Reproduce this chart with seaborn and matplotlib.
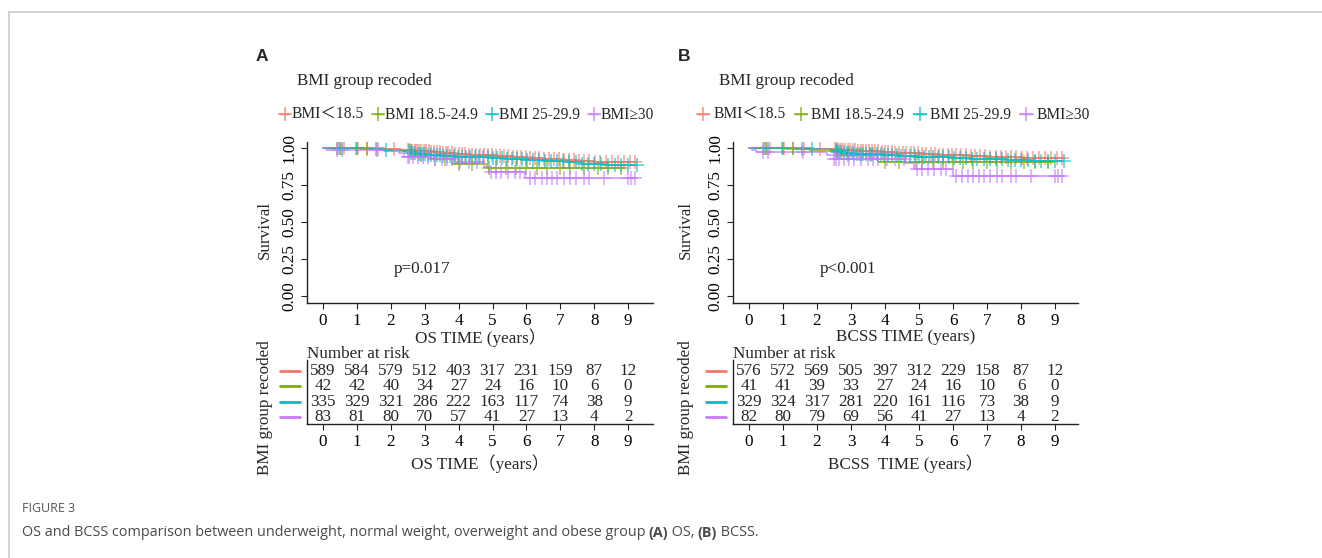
import numpy as np
import pandas as pd
import matplotlib
matplotlib.use('Agg')
import matplotlib.pyplot as plt
import matplotlib.transforms as mtransforms
from matplotlib.lines import Line2D
import seaborn as sns

groups = ['BMI＜18.5', 'BMI 18.5-24.9', 'BMI 25-29.9', 'BMI≥30']
colors = ['#F8766D', '#7CAE00', '#00BFC4', '#C77CFF']
years = list(range(10))
surv_ticks = [0.0, 0.25, 0.5, 0.75, 1.0]

# ---- OS (panel A) step curves: time, survival ----
os_red_t = [0, 0.6, 1.2, 1.9, 2.3, 2.6, 2.9, 3.2, 3.5, 3.9, 4.3, 4.7, 5.1, 5.6, 6.0, 6.5, 7.0, 7.5, 8.0, 8.6, 9.2]
os_red_s = [1.0, 0.998, 0.995, 0.992, 0.988, 0.982, 0.976, 0.971, 0.966, 0.960, 0.955, 0.950, 0.944, 0.937, 0.930, 0.924, 0.918, 0.912, 0.907, 0.903, 0.903]
os_green_t = [0, 1.8, 2.7, 3.3, 3.8, 4.85, 8.9]
os_green_s = [1.0, 0.976, 0.952, 0.928, 0.890, 0.862, 0.862]
os_cyan_t = [0, 0.4, 1.1, 1.8, 2.4, 2.6, 2.8, 3.1, 3.5, 3.9, 4.4, 4.9, 5.4, 5.9, 6.5, 7.1, 7.6, 8.3, 9.25]
os_cyan_s = [1.0, 0.997, 0.993, 0.988, 0.980, 0.968, 0.960, 0.954, 0.948, 0.942, 0.936, 0.930, 0.924, 0.917, 0.910, 0.902, 0.890, 0.884, 0.884]
os_purple_t = [0, 0.1, 2.25, 2.4, 3.2, 3.9, 4.75, 4.9, 5.95, 9.2]
os_purple_s = [1.0, 0.988, 0.964, 0.940, 0.925, 0.905, 0.870, 0.840, 0.795, 0.795]

# ---- BCSS (panel B) step curves ----
bcss_red_t = [0, 0.6, 1.2, 1.9, 2.3, 2.6, 2.9, 3.2, 3.5, 3.9, 4.3, 4.7, 5.1, 5.6, 6.0, 6.5, 7.0, 7.5, 8.0, 8.6, 9.2]
bcss_red_s = [1.0, 0.999, 0.997, 0.995, 0.992, 0.988, 0.984, 0.980, 0.976, 0.972, 0.968, 0.964, 0.960, 0.955, 0.950, 0.946, 0.942, 0.938, 0.935, 0.933, 0.933]
bcss_green_t = [0, 1.8, 2.7, 3.8, 8.9]
bcss_green_s = [1.0, 0.976, 0.951, 0.902, 0.902]
bcss_cyan_t = [0, 0.4, 1.1, 1.8, 2.4, 2.6, 2.8, 3.1, 3.5, 3.9, 4.4, 4.9, 5.4, 5.9, 6.5, 7.1, 7.6, 8.3, 9.25]
bcss_cyan_s = [1.0, 0.998, 0.995, 0.991, 0.985, 0.975, 0.968, 0.962, 0.957, 0.952, 0.947, 0.942, 0.937, 0.932, 0.928, 0.924, 0.918, 0.915, 0.915]
bcss_purple_t = [0, 0.1, 0.2, 2.3, 2.5, 4.6, 4.85, 6.0, 9.2]
bcss_purple_s = [1.0, 0.988, 0.975, 0.950, 0.925, 0.900, 0.857, 0.810, 0.810]

# ---- censoring times (same follow-up in both panels) ----
cens_red = [0.42, 0.5, 0.62, 1.02, 1.3, 1.62, 2.08, 2.52, 2.58, 2.64, 2.7, 2.77, 2.83, 2.9, 2.97, 3.05, 3.12,
            3.2, 3.28, 3.36, 3.45, 3.53, 3.62, 3.7, 3.8, 3.9, 4.0, 4.1, 4.2, 4.3, 4.4, 4.52, 4.63, 4.75, 4.86,
            4.98, 5.1, 5.22, 5.34, 5.47, 5.6, 5.72, 5.85, 5.98, 6.1, 6.24, 6.38, 6.52, 6.66, 6.8, 6.95, 7.1,
            7.25, 7.4, 7.55, 7.7, 7.86, 8.02, 8.18, 8.35, 8.52, 8.7, 8.88, 9.05, 9.2]
cens_green = [0.5, 1.0, 1.3, 2.6, 2.9, 3.3, 3.6, 4.0, 4.4, 4.9, 5.1, 5.4, 5.7, 6.0, 6.3, 6.6, 7.0, 7.3,
              7.7, 8.1, 8.4, 8.8]
cens_cyan = [0.45, 0.55, 0.98, 1.55, 1.85, 2.55, 2.6, 2.66, 2.72, 2.8, 2.87, 2.95, 3.02, 3.1, 3.18, 3.27,
             3.35, 3.44, 3.55, 3.65, 3.75, 3.87, 3.98, 4.1, 4.22, 4.35, 4.48, 4.6, 4.73, 4.87, 5.0, 5.14,
             5.28, 5.42, 5.57, 5.72, 5.88, 6.03, 6.2, 6.37, 6.55, 6.72, 6.9, 7.08, 7.27, 7.45, 7.63, 7.82,
             8.0, 8.2, 8.4, 8.6, 8.8, 9.0, 9.25]
cens_purple = [0.4, 0.55, 1.6, 2.5, 2.55, 2.65, 2.8, 2.95, 3.1, 3.3, 3.5, 3.65, 3.8, 4.05, 4.3, 4.55, 4.95,
               5.1, 5.25, 5.45, 5.65, 5.8, 6.1, 6.25, 6.45, 6.6, 6.75, 6.9, 7.1, 7.3, 7.45, 7.7, 7.85,
               8.3, 9.0, 9.1, 9.2]

# ---- number at risk ----
os_risk_red = [589, 584, 579, 512, 403, 317, 231, 159, 87, 12]
os_risk_green = [42, 42, 40, 34, 27, 24, 16, 10, 6, 0]
os_risk_cyan = [335, 329, 321, 286, 222, 163, 117, 74, 38, 9]
os_risk_purple = [83, 81, 80, 70, 57, 41, 27, 13, 4, 2]
bcss_risk_red = [576, 572, 569, 505, 397, 312, 229, 158, 87, 12]
bcss_risk_green = [41, 41, 39, 33, 27, 24, 16, 10, 6, 0]
bcss_risk_cyan = [329, 324, 317, 281, 220, 161, 116, 73, 38, 9]
bcss_risk_purple = [82, 80, 79, 69, 56, 41, 27, 13, 4, 2]

sns.set_style('ticks')
plt.rcParams['font.family'] = ['Liberation Serif', 'Noto Sans CJK SC', 'DejaVu Sans']
plt.rcParams['font.size'] = 12.3
plt.rcParams['axes.linewidth'] = 1.0
plt.rcParams['axes.edgecolor'] = '#222222'
plt.rcParams['xtick.color'] = '#222222'
plt.rcParams['ytick.color'] = '#222222'
plt.rcParams['xtick.labelcolor'] = 'black'
plt.rcParams['ytick.labelcolor'] = 'black'

W, H = 1322, 558
fig = plt.figure(figsize=(W / 100, H / 100), dpi=100)
fig.patch.set_facecolor('white')


def fx(px):
    return px / W


def fy(py):
    return 1 - py / H


def km_panel(left, right, zero_px, year_px, curves, censors, risks, p_text, p_pos,
             xlab_top, xlab_bottom, letter, letter_x, ylab_x, legend_x, legend_kw):
    xlo = (left - zero_px) / year_px
    xhi = (right - zero_px) / year_px

    # survival curves
    ax = fig.add_axes([fx(left), fy(303), (right - left) / W, (303 - 142) / H])
    for (t, s), cens, c in zip(curves, censors, colors):
        df = pd.DataFrame({'time': t, 'surv': s})
        sns.lineplot(data=df, x='time', y='surv', ax=ax, color=c, lw=1.1, alpha=0.85,
                     drawstyle='steps-post', estimator=None, legend=False)
        ta = np.array(t)
        sa = np.array(s)
        ca = np.array(cens)
        idx = np.searchsorted(ta, ca, side='right') - 1
        sns.scatterplot(x=ca, y=sa[idx], ax=ax, color=c, marker='+', s=95,
                        linewidth=1.3, alpha=0.6, legend=False, zorder=3)
    ax.set_xlim(xlo, xhi)
    ax.set_ylim(-0.047, 1.04)
    ax.set_xticks(years)
    ax.set_yticks(surv_ticks)
    ax.set_yticklabels(['%.2f' % v for v in surv_ticks])
    ax.tick_params(axis='y', labelrotation=90, length=4, pad=3)
    ax.tick_params(axis='x', length=4, pad=3)
    for lab in ax.get_yticklabels():
        lab.set_va('center')
    ax.set_xlabel(xlab_top, labelpad=0)
    ax.set_ylabel('')
    sns.despine(ax=ax)
    ax.text(p_pos[0], p_pos[1], p_text, ha='left', va='center')
    fig.text(fx(ylab_x), fy(230), 'Survival', rotation=90, ha='center', va='center')

    # title + legend
    fig.text(fx(letter_x), fy(56), letter, family='Liberation Sans', weight='bold',
             fontsize=12.5, ha='center', va='center')
    fig.text(fx(letter_x + 35), fy(81), 'BMI group recoded', ha='left', va='center')
    handles = [Line2D([], [], color=c, marker='+', markersize=10, markeredgewidth=1.1,
                      lw=1.0, alpha=0.85) for c in colors]
    fig.legend(handles, groups, loc='center left', bbox_to_anchor=(fx(legend_x), fy(115)),
               ncol=4, frameon=False, borderpad=0, borderaxespad=0, fontsize=11.2, **legend_kw)

    # number at risk table
    axr = fig.add_axes([fx(left), fy(424), (right - left) / W, (424 - 360) / H])
    for i, (row, c) in enumerate(zip(risks, colors)):
        for x, n in zip(years, row):
            axr.text(x, i, str(n), ha='center', va='center')
    axr.set_xlim(xlo, xhi)
    axr.set_ylim(3.45, -0.72)
    axr.set_yticks([])
    axr.set_xticks(years)
    axr.tick_params(axis='x', length=4, pad=3)
    axr.set_xlabel(xlab_bottom, labelpad=3)
    sns.despine(ax=axr)
    trans = mtransforms.blended_transform_factory(fig.transFigure, axr.transData)
    for i, c in enumerate(colors):
        axr.add_line(Line2D([fx(left - 27), fx(left - 7)], [i, i], color=c, lw=2,
                            transform=trans, clip_on=False))
    fig.text(fx(left), fy(354), 'Number at risk', ha='left', va='center')
    fig.text(fx(ylab_x), fy(408), 'BMI group recoded', rotation=90, ha='center', va='center')


km_panel(307, 653, 323, 33.9,
         [(os_red_t, os_red_s), (os_green_t, os_green_s), (os_cyan_t, os_cyan_s), (os_purple_t, os_purple_s)],
         [cens_red, cens_green, cens_cyan, cens_purple],
         [os_risk_red, os_risk_green, os_risk_cyan, os_risk_purple],
         'p=0.017', (2.1, 0.18), 'OS TIME (years）', 'OS TIME（years）', 'A', 262, 265, 280,
         dict(handlelength=0.6, handletextpad=0.15, columnspacing=0.6))

km_panel(733, 1078, 749, 34.0,
         [(bcss_red_t, bcss_red_s), (bcss_green_t, bcss_green_s), (bcss_cyan_t, bcss_cyan_s),
          (bcss_purple_t, bcss_purple_s)],
         [cens_red, cens_green, cens_cyan, cens_purple],
         [bcss_risk_red, bcss_risk_green, bcss_risk_cyan, bcss_risk_purple],
         'p<0.001', (2.08, 0.18), 'BCSS TIME (years)', 'BCSS  TIME (years）', 'B', 684, 686, 697,
         dict(handlelength=0.8, handletextpad=0.25, columnspacing=0.6))

# page frame
fig.add_artist(Line2D([fx(9), 1], [fy(12), fy(12)], color='#cccccc', lw=1.2, transform=fig.transFigure))
fig.add_artist(Line2D([fx(9), fx(9)], [fy(12), 0], color='#cccccc', lw=1.2, transform=fig.transFigure))

# caption
fig.text(fx(22), fy(508), 'FIGURE 3', family='Open Sans', fontsize=9, color='#555555', va='center')
fig.canvas.draw()
renderer = fig.canvas.get_renderer()
x = fx(22)
pieces = [('OS and BCSS comparison between underweight, normal weight, overweight and obese group', 'normal'),
          (' ', 'normal'), ('(A)', 'bold'), (' OS,', 'normal'), (' ', 'normal'), ('(B)', 'bold'),
          (' BCSS.', 'normal')]
for txt, wt in pieces:
    t = fig.text(x, fy(533), txt, family='Open Sans', fontsize=10.4, weight=wt,
                 color='#4a4a4a', va='center')
    bb = t.get_window_extent(renderer)
    x = bb.x1 / W if txt.strip() else x + 3.0 / W

fig.savefig('out.png', dpi=100, facecolor='white')
